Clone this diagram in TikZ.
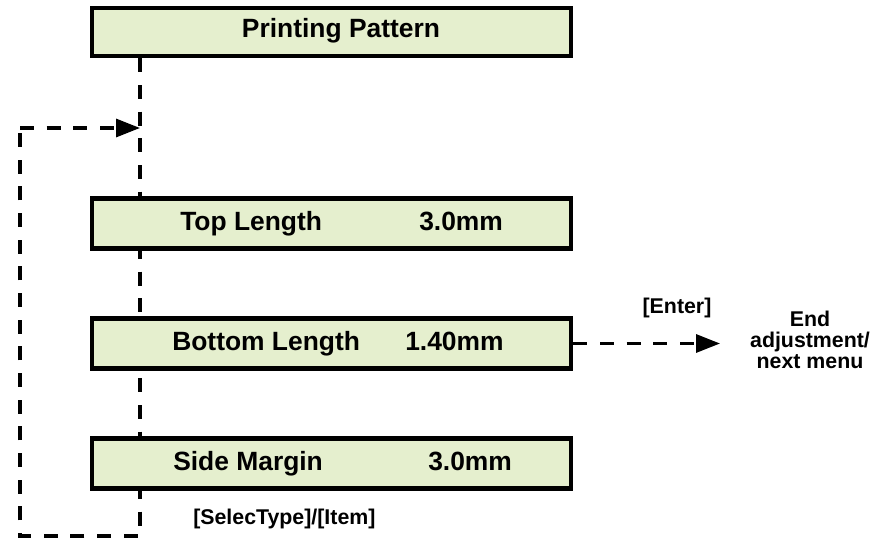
\documentclass[tikz,border=0pt]{standalone}
\usepackage{fontspec}
\setmainfont{Liberation Sans}
\usetikzlibrary{arrows.meta,backgrounds}
\definecolor{boxfill}{RGB}{229,239,206}
\tikzset{
  menubox/.style={draw=black, line width=3.6pt, fill=boxfill, inner sep=0pt,
    minimum width=359.25pt, minimum height=37.5pt},
  boxtext/.style={font=\fontsize{19.8}{22}\selectfont\bfseries, inner sep=0pt},
  smalltext/.style={font=\fontsize{16}{15.5}\selectfont\bfseries, inner sep=0pt},
  dashline/.style={line width=2.4pt, dash pattern=on 10.5pt off 9.5pt},
  tip/.style={-{Triangle[length=18pt,width=13.5pt]}}
}
\begin{document}
\begin{tikzpicture}[x=0.75pt,y=-0.75pt]
\useasboundingbox (0,0) rectangle (891,538);
% boxes
\node[menubox, minimum height=36pt] (b1) at (331.5,32) {};
\node[menubox] (b2) at (331.5,223.5) {};
\node[menubox] (b3) at (331.5,343.5) {};
\node[menubox] (b4) at (331.5,463.5) {};
% box texts
\node[boxtext, anchor=base] (t1) at (341,38) {Printing Pattern};
\node[boxtext, anchor=base west] (t2a) at (180,230) {Top Length};
\node[boxtext, anchor=base west] (t2b) at (419,230) {3.0mm};
\node[boxtext, anchor=base west] (t3a) at (172,350) {Bottom Length};
\node[boxtext, anchor=base west] (t3b) at (405,350) {1.40mm};
\node[boxtext, anchor=base west] (t4a) at (173,470) {Side Margin};
\node[boxtext, anchor=base west] (t4b) at (428,470) {3.0mm};
% labels
\node[smalltext, anchor=base] (enter) at (677,313) {[Enter]};
\node[smalltext, align=center] (endn) at (810,340) {End\\adjustment/\\next menu};
\node[smalltext, anchor=base west] (sel) at (193,524) {[SelecType]/[Item]};
% coordinates
\coordinate (br) at (140,536);
\coordinate (bl) at (20,536);
\coordinate (tl) at (20,128);
\coordinate (tr) at (140,128);
\coordinate (ex) at (720,343.5);
\begin{scope}[on background layer]
\draw[dashline] (b1.south -| br) -- (br) -- (bl) -- (tl);
\draw[dashline, tip] (tl) -- (tr);
\draw[dashline, tip] (b3.east) -- (ex);
\end{scope}
\end{tikzpicture}
\end{document}
